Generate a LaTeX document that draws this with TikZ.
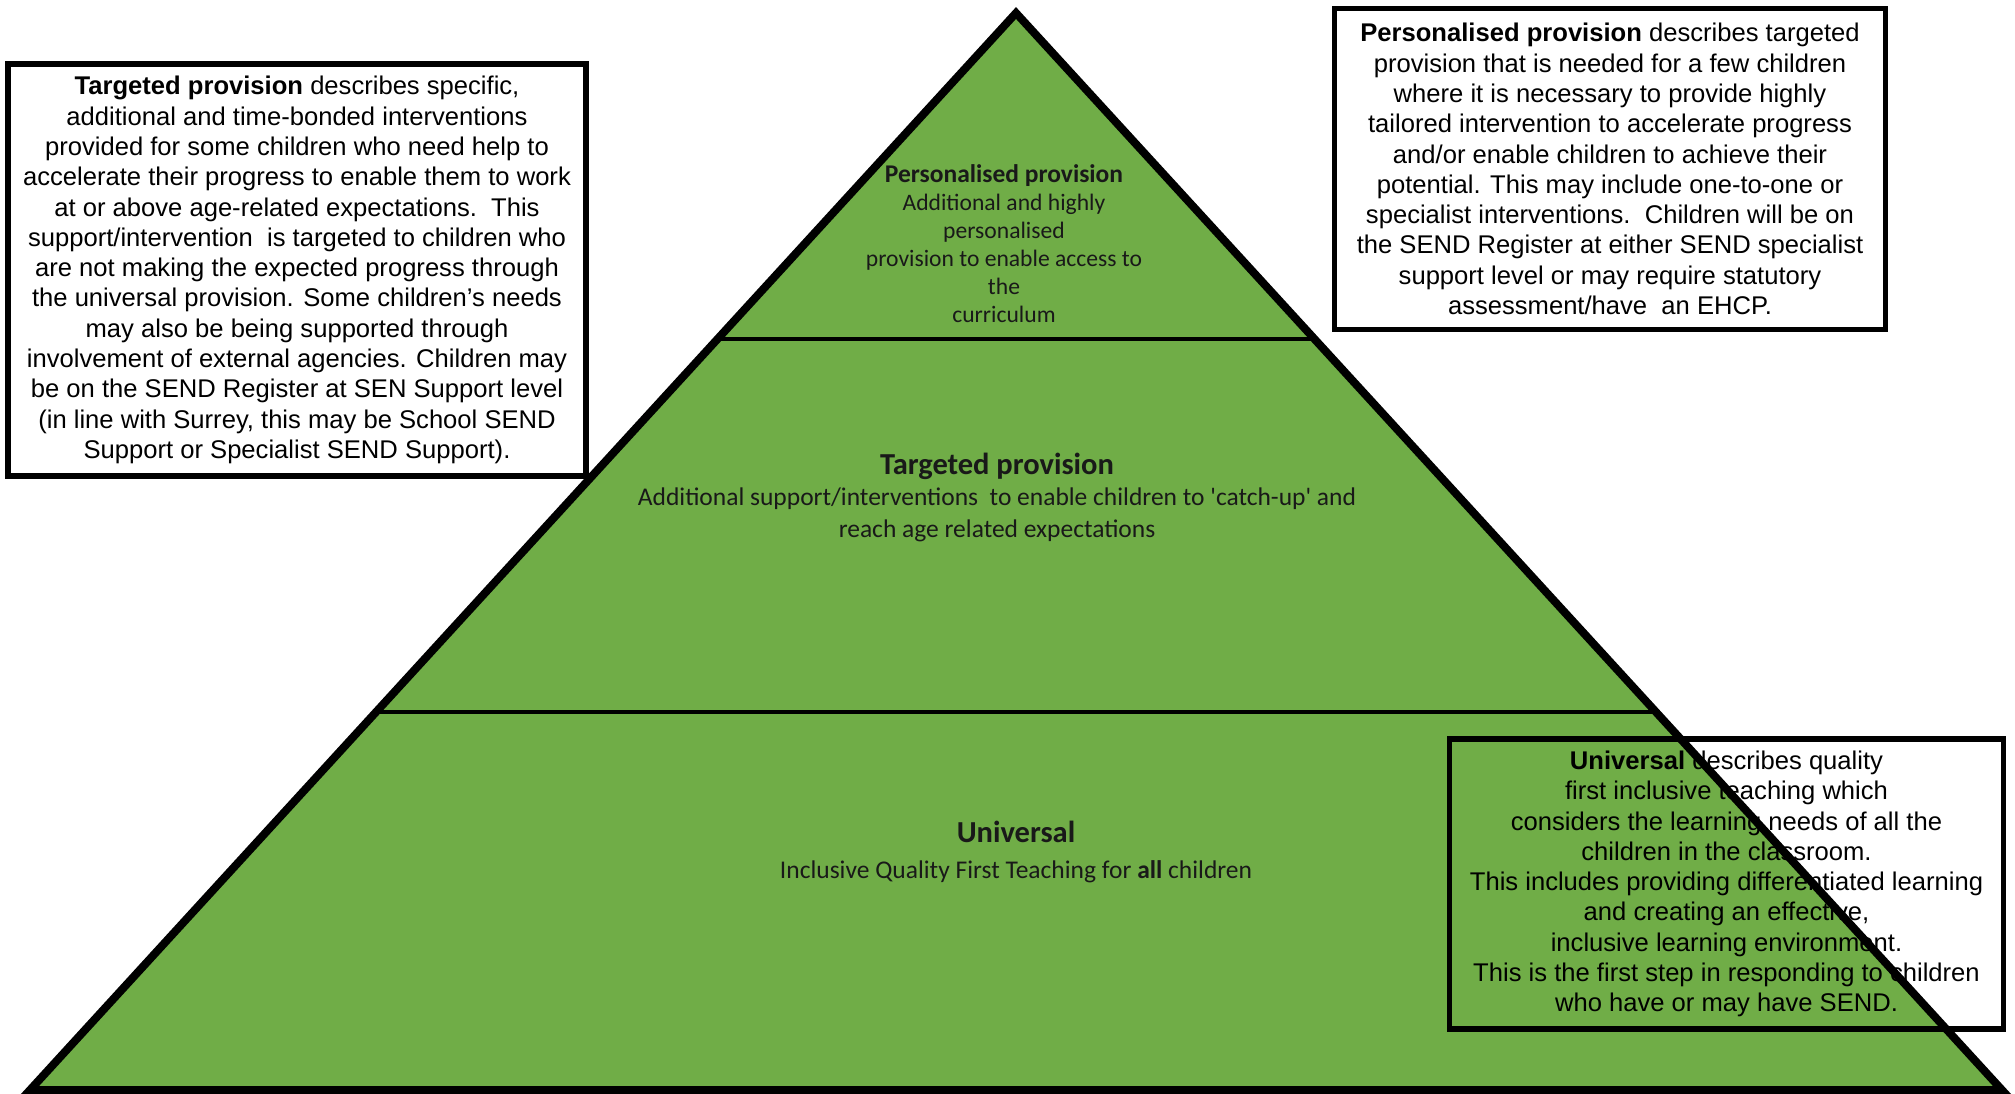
\documentclass[tikz,border=0pt]{standalone}
\usepackage{fontspec}
\newfontfamily\boxfont{Liberation Sans}
\newfontfamily\pyrfont{Carlito}
\usetikzlibrary{calc,positioning}
\definecolor{pyr}{HTML}{70AD47}
\tikzset{
  outline/.style={line width=8pt, line join=miter},
  divider/.style={line width=4pt},
  infobox/.style={draw=black, line width=5.5pt, align=center, inner sep=0pt,
                  font=\boxfont\fontsize{25.6}{30.3}\selectfont},
  tiertext/.style={align=center, inner sep=0pt, text=black!90},
}
\begin{document}
\begin{tikzpicture}[x=1pt,y=-1pt]
  \useasboundingbox (0,0) rectangle (2015,1093);
  \coordinate (apex) at (1016,13);
  \coordinate (bl) at (30,1090);
  \coordinate (br) at (2002,1090);
  \fill[pyr] (apex) -- (bl) -- (br) -- cycle;
  % tier labels
  \node[tiertext, font=\pyrfont\fontsize{23.6}{28}\selectfont] (ptier) at (1004,244)
    {{\fontsize{25.5}{28}\selectfont\textbf{Personalised provision}}\\Additional and highly\\personalised\\provision to enable access to\\the\\curriculum};
  \node[tiertext, font=\pyrfont\fontsize{25.5}{31.5}\selectfont] (ttier) at (997,497)
    {{\fontsize{30.5}{31.5}\selectfont\textbf{Targeted provision}}\\Additional support/interventions\ \ to enable children to \textquotesingle catch-up\textquotesingle{} and\\reach age related expectations};
  \node[tiertext, font=\pyrfont\fontsize{25.5}{36}\selectfont] (utier) at (1016,852)
    {{\fontsize{30.5}{36}\selectfont\textbf{Universal}}\\Inclusive Quality First Teaching for \textbf{all} children};
  % description boxes
  \node[infobox, fill=white, minimum width=578pt, minimum height=412pt] (tbox) at (297,270)
    {\textbf{Targeted provision} describes specific,\\additional and time-bonded interventions\\provided for some children who need help to\\accelerate their progress to enable them to work\\at or above age-related expectations.\ \ This\\support/intervention\ \ is targeted to children who\\are not making the expected progress through\\the universal provision. Some children’s needs\\may also be being supported through\\involvement of external agencies. Children may\\be on the SEND Register at SEN Support level\\(in line with Surrey, this may be School SEND\\Support or Specialist SEND Support).};
  \node[infobox, fill=white, minimum width=551pt, minimum height=321pt] (pbox) at (1610,169)
    {\textbf{Personalised provision} describes targeted\\provision that is needed for a few children\\where it is necessary to provide highly\\tailored intervention to accelerate progress\\and/or enable children to achieve their\\potential. This may include one-to-one or\\specialist interventions.\ \ Children will be on\\the SEND Register at either SEND specialist\\support level or may require statutory\\assessment/have\ \ an EHCP.};
  \node[infobox, minimum width=554pt, minimum height=290pt] (ubox) at (1726.5,884)
    {\textbf{Universal} describes quality\\first inclusive teaching which\\considers the learning needs of all the\\children in the classroom.\\This includes providing differentiated learning\\and creating an effective,\\inclusive learning environment.\\This is the first step in responding to children\\who have or may have SEND.};
  % tier dividers and outline
  \coordinate (d1l) at ($(apex)!0.303!(bl)$);
  \coordinate (d1r) at ($(apex)!0.303!(br)$);
  \coordinate (d2l) at ($(apex)!0.649!(bl)$);
  \coordinate (d2r) at ($(apex)!0.649!(br)$);
  \draw[divider] (d1l) -- (d1r);
  \draw[divider] (d2l) -- (d2r);
  \draw[outline] (apex) -- (bl) -- (br) -- cycle;
\end{tikzpicture}
\end{document}
